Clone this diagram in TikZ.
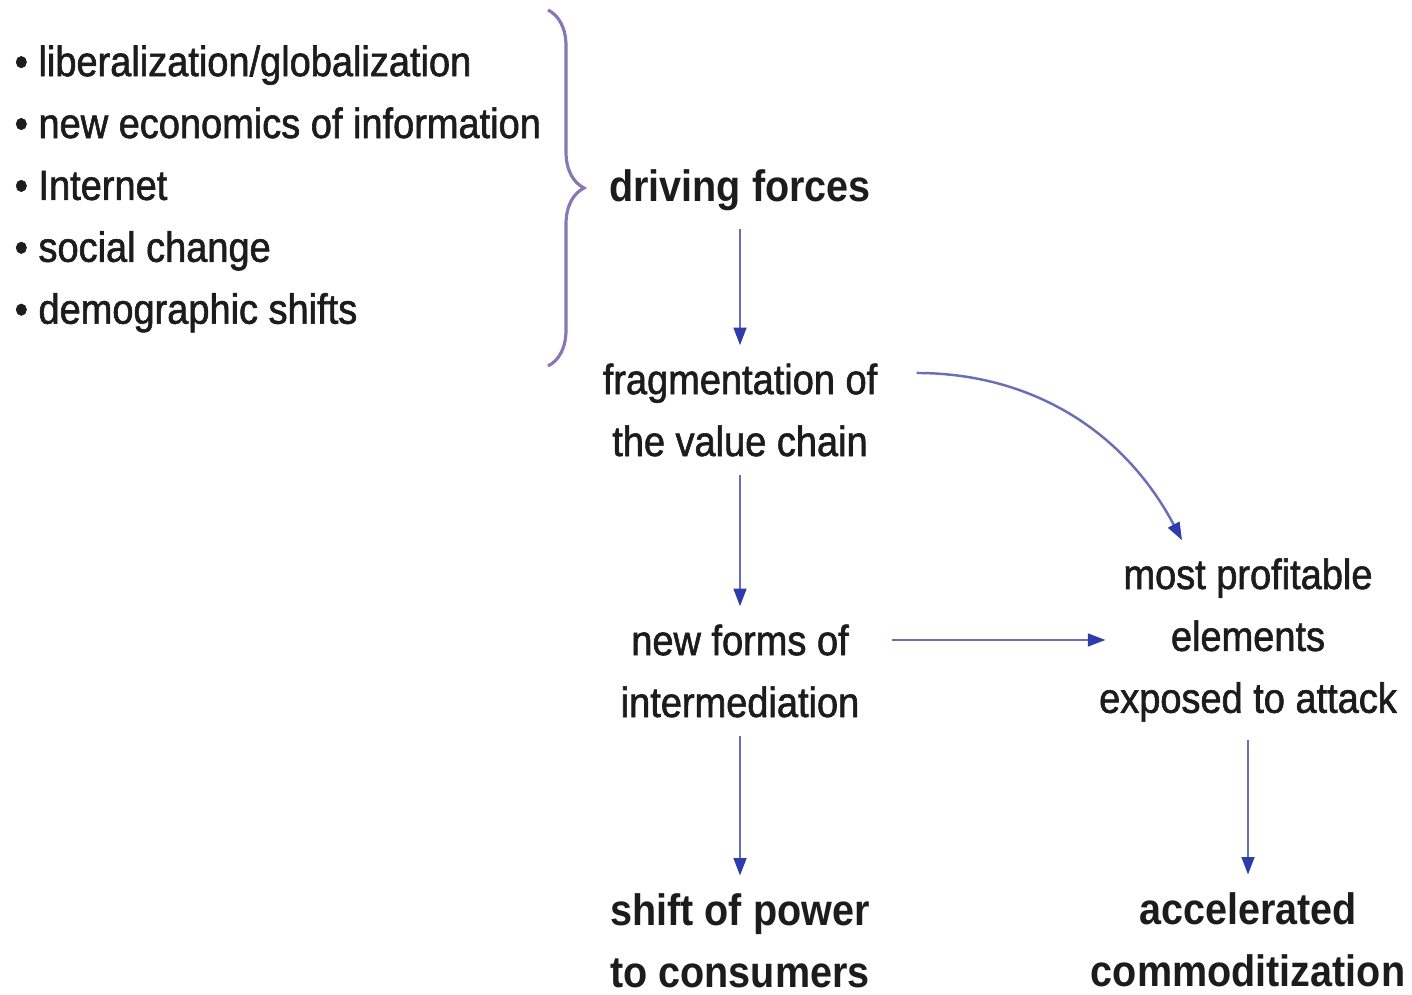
\documentclass[tikz,border=0pt]{standalone}
\usepackage{fontspec}
\setmainfont{Liberation Sans}[FakeStretch=0.9]
\newfontfamily\mediumfont{Liberation Sans}[FakeStretch=0.9,FakeBold=1.4]
\usepackage{tikz}
\usetikzlibrary{arrows.meta,decorations.pathreplacing}
\definecolor{TextoOscuro}{RGB}{28,28,28}
\definecolor{LineaAzul}{RGB}{105,110,185}
\definecolor{PuntaAzul}{RGB}{45,60,170}
\definecolor{LlaveLila}{RGB}{135,120,180}

\begin{document}
\begin{tikzpicture}[x=0.01cm,y=-0.01cm,
  listtext/.style={text=TextoOscuro,align=left,inner sep=0pt,
    font=\mediumfont\fontsize{12}{17.6}\selectfont},
  stage/.style={text=TextoOscuro,align=center,inner sep=5pt,
    font=\mediumfont\fontsize{12}{17.6}\selectfont},
  keystage/.style={stage,font=\fontsize{12.5}{17.6}\selectfont\bfseries},
  flow/.style={LineaAzul,line width=0.7pt,
    -{Triangle[length=5pt,width=3.6pt,color=PuntaAzul]}}]
  \useasboundingbox (0,0) rectangle (1412,995);
  % driving forces
  \node[listtext,anchor=west] (drivers) at (14,189)
    {\textbullet\ liberalization/globalization\\
     \textbullet\ new economics of information\\
     \textbullet\ Internet\\
     \textbullet\ social change\\
     \textbullet\ demographic shifts};
  \draw[LlaveLila,line width=0.9pt,decorate,
    decoration={brace,amplitude=0.36cm}] (548,10) -- (548,366);
  % chain of effects
  \node[keystage] (forces) at (740,190) {driving forces};
  \node[stage] (frag) at (740,410) {fragmentation of\\the value chain};
  \node[stage] (interm) at (740,671) {new forms of\\intermediation};
  \node[keystage] (power) at (740,941) {shift of power\\to consumers};
  \node[stage] (profit) at (1248,640) {most profitable\\elements\\exposed to attack};
  \node[keystage] (commod) at (1248,940) {accelerated\\commoditization};
  \draw[flow] (forces) -- (frag);
  \draw[flow] (frag) -- (interm);
  \draw[flow] (interm) -- (power);
  \draw[flow] (profit) -- (commod);
  \draw[flow,shorten <=4pt,shorten >=-7pt] (interm.east |- profit) -- (profit.west);
  \draw[flow,shorten <=6pt] ([yshift=0.37cm]frag.east)
    to[out=0,in=118] ([xshift=-0.66cm]profit.north);
\end{tikzpicture}
\end{document}
